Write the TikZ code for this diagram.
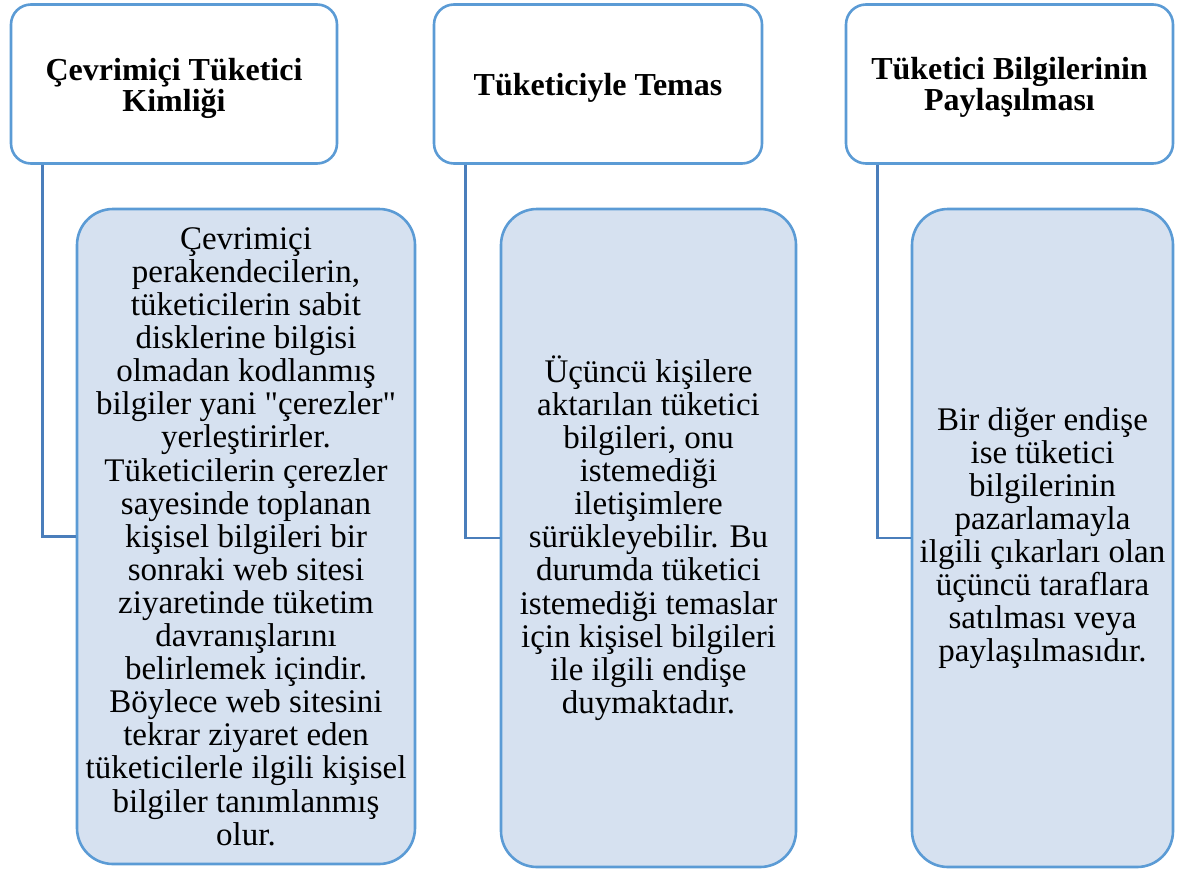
\documentclass[tikz,border=0pt]{standalone}
\usepackage{fontspec}
\setmainfont{Liberation Serif}
\usepackage{xcolor}
\usetikzlibrary{positioning}

\definecolor{edgeblue}{RGB}{91,155,213}
\definecolor{linkblue}{RGB}{74,126,187}
\definecolor{paleblue}{RGB}{214,225,240}

\begin{document}
\begin{tikzpicture}[x=1pt,y=-1pt,
 head/.style={draw=edgeblue,line width=2.6pt,rounded corners=20pt,fill=white,align=center,
              minimum height=159pt,inner sep=0pt,font=\fontsize{32}{31.5}\selectfont\bfseries},
 body/.style={draw=edgeblue,line width=2.6pt,rounded corners=36pt,fill=paleblue,align=center,
              inner sep=0pt,font=\fontsize{33}{33.1}\selectfont},
 link/.style={draw=linkblue,line width=2.6pt}
]
\useasboundingbox (0,0) rectangle (1177,875);

% top row
\node[head,minimum width=326pt] (kim) at (174,84) {\rule{0pt}{31pt}Çevrimiçi Tüketici\\Kimliği};
\node[head,minimum width=328pt] (tem) at (598,84) {\rule{0pt}{30pt}Tüketiciyle Temas};
\node[head,minimum width=327pt] (pay) at (1009.5,84) {\rule{0pt}{29pt}Tüketici Bilgilerinin\\Paylaşılması};

% detail boxes
\node[body,minimum width=338pt,minimum height=655pt] (kimtxt) at (246,536.5)
 {Çevrimiçi\\perakendecilerin,\\tüketicilerin sabit\\disklerine bilgisi\\olmadan kodlanmış\\
  bilgiler yani \textquotedbl çerezler\textquotedbl\\yerleştirirler.\\Tüketicilerin çerezler\\sayesinde toplanan\\
  kişisel bilgileri bir\\sonraki web sitesi\\ziyaretinde tüketim\\davranışlarını\\
  belirlemek içindir.\\Böylece web sitesini\\tekrar ziyaret eden\\tüketicilerle ilgili kişisel\\
  bilgiler tanımlanmış\\olur.};
\node[body,minimum width=295pt,minimum height=658pt] (temtxt) at (648.5,538)
 {Üçüncü kişilere\\aktarılan tüketici\\bilgileri, onu\\istemediği\\iletişimlere\\
  sürükleyebilir. Bu\\durumda tüketici\\istemediği temaslar\\için kişisel bilgileri\\
  ile ilgili endişe\\duymaktadır.};
\node[body,minimum width=261pt,minimum height=658pt] (paytxt) at (1042.5,538)
 {Bir diğer endişe\\ise tüketici\\bilgilerinin\\pazarlamayla\\ilgili çıkarları olan\\
  üçüncü taraflara\\satılması veya\\paylaşılmasıdır.};

% connectors
\draw[link] ([xshift=33pt]kim.south west) |- (kimtxt.west);
\draw[link] ([xshift=33pt]tem.south west) |- (temtxt.west);
\draw[link] ([xshift=33pt]pay.south west) |- (paytxt.west);
\end{tikzpicture}
\end{document}
